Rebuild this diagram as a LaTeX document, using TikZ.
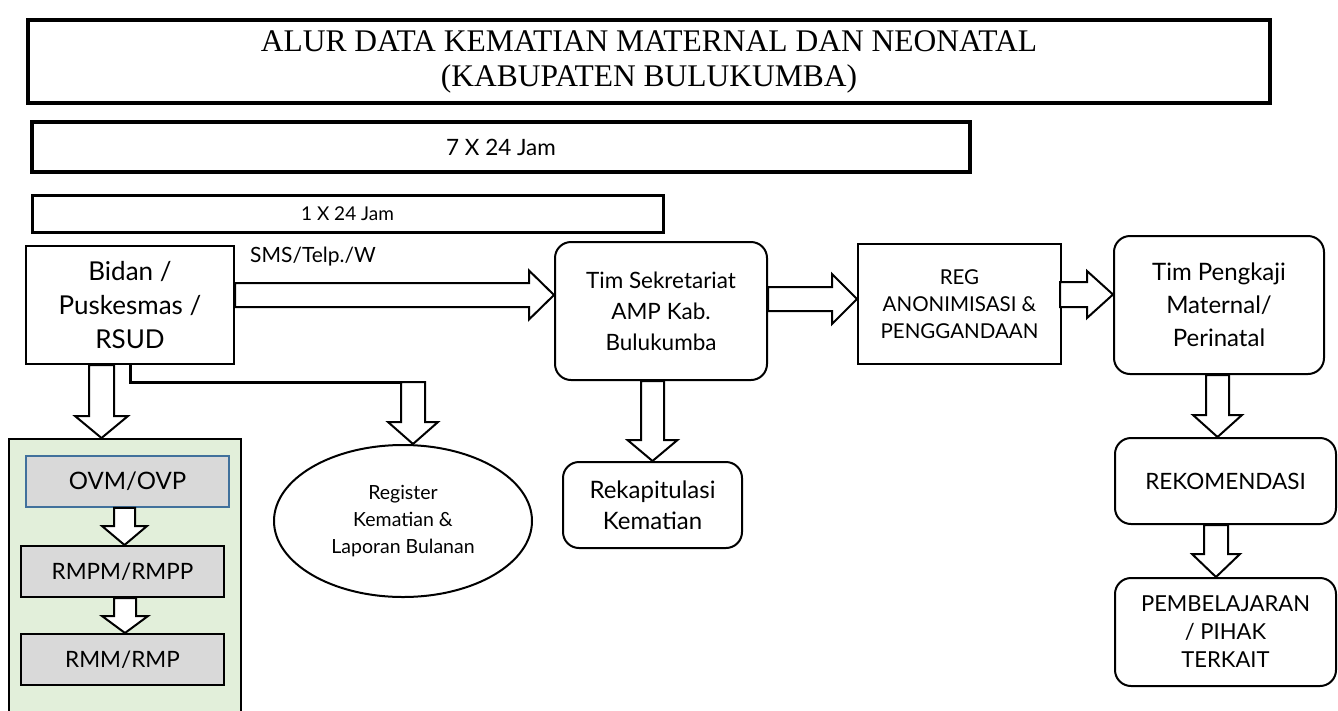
\documentclass[tikz,border=0pt]{standalone}
\usepackage{fontspec}
\setmainfont{Liberation Serif}
\newfontfamily\gs{Lato}
\usetikzlibrary{calc,shapes.geometric}
\definecolor{pgreen}{HTML}{E2EFDA}
\definecolor{pgray}{HTML}{D9D9D9}
\definecolor{pblue}{HTML}{41719C}
\newcommand\fs[2]{\fontsize{#1}{#2}\selectfont}
\tikzset{
  box/.style={draw, line width=2pt, align=center, font=\gs, inner sep=0pt},
  rbox/.style={box, rounded corners=16pt},
  blk/.style={draw, line width=2pt, fill=white, line join=miter},
}
% horizontal block arrow: start coord, end node, half shaft, half head, head length
\newcommand\harr[5]{%
  \draw[blk] let \p1=(#1), \p2=(#2 |- #1) in
   (\x1,\y1+#3) -- (\x2-#5,\y1+#3) -- (\x2-#5,\y1+#4) -- (\x2,\y1) --
   (\x2-#5,\y1-#4) -- (\x2-#5,\y1-#3) -- (\x1,\y1-#3) -- cycle;}
% downward block arrow
\newcommand\varr[5]{%
  \draw[blk] let \p1=(#1), \p2=(#1 |- #2) in
   (\x1-#3,\y1) -- (\x1-#3,\y2+#5) -- (\x1-#4,\y2+#5) -- (\x1,\y2) --
   (\x1+#4,\y2+#5) -- (\x1+#3,\y2+#5) -- (\x1+#3,\y1) -- cycle;}
\begin{document}
\begin{tikzpicture}[x=1pt,y=-1pt]
\useasboundingbox (0,0) rectangle (1338,710);
% headers
\node[draw, line width=4pt, minimum width=1242pt, minimum height=83pt, align=center,
  font=\fs{31.5}{35}] (title) at (649,61.5)
  {ALUR DATA KEMATIAN MATERNAL DAN NEONATAL\\(KABUPATEN BULUKUMBA)};
\node[draw, line width=3.5pt, minimum width=938pt, minimum height=50pt,
  font=\gs\fs{22.5}{26}] (d7) at (501,147) {7 X 24 Jam};
\node[draw, line width=3pt, minimum width=631pt, minimum height=37pt,
  font=\gs\fs{19}{22}] (d1) at (347.5,214) {1 X 24 Jam};
% main nodes
\node[box, minimum width=208pt, minimum height=118pt, font=\gs\fs{26}{34}] (bidan) at (130,305)
  {Bidan /\\Puskesmas /\\RSUD};
\node[rbox, minimum width=212pt, minimum height=138pt, font=\gs\fs{22.5}{31}] (sek) at (661,311)
  {Tim Sekretariat\\AMP Kab.\\Bulukumba};
\node[box, minimum width=203pt, minimum height=120pt, font=\gs\fs{20.5}{27}] (reg) at (959.5,304)
  {REG\\ANONIMISASI \&\\PENGGANDAAN};
\node[rbox, minimum width=210pt, minimum height=138pt, font=\gs\fs{24}{33}] (peng) at (1219,305)
  {Tim Pengkaji\\Maternal/\\Perinatal};
\node[rbox, minimum width=221pt, minimum height=86pt, font=\gs\fs{22.5}{26}] (rekom) at (1225.5,481)
  {REKOMENDASI};
\node[rbox, minimum width=221pt, minimum height=108pt, font=\gs\fs{22}{28}] (pemb) at (1225.5,632)
  {PEMBELAJARAN\\/ PIHAK\\TERKAIT};
\node[rbox, minimum width=179pt, minimum height=86pt, font=\gs\fs{24}{31}] (rekap) at (652.5,505)
  {Rekapitulasi\\Kematian};
\node[draw, line width=2pt, ellipse, minimum width=258pt, minimum height=152pt, inner sep=0pt,
  align=center, font=\gs\fs{19.5}{27}] (regis) at (403,521)
  {Register\\Kematian \&\\Laporan Bulanan};
% green panel
\node[draw, line width=1.5pt, fill=pgreen, anchor=north west, minimum width=232pt,
  minimum height=300pt, inner sep=0pt] (green) at (8,438) {};
\node[draw=pblue, line width=1.5pt, fill=pgray, minimum width=203pt, minimum height=51pt,
  font=\gs\fs{24}{30}, inner sep=0pt] (ovm) at (127.5,481.5) {OVM/OVP};
\node[box, fill=pgray, minimum width=203pt, minimum height=51pt, font=\gs\fs{22.5}{30}] (rmpm) at (122.5,571.5)
  {RMPM/RMPP};
\node[box, fill=pgray, minimum width=203pt, minimum height=51pt, font=\gs\fs{22.5}{30}] (rmm) at (122.5,659.5)
  {RMM/RMP};
% label
\node[anchor=west, inner sep=0pt, font=\gs\fs{21}{24}] (sms) at (250,257) {SMS/Telp./W};
% connectors
\coordinate (s1) at ($(bidan.east)+(0,-10)$);
\harr{s1}{sek.west}{12pt}{24.5pt}{25pt}
\coordinate (s2) at ($(sek.east)+(0,-12)$);
\harr{s2}{reg.west}{12pt}{25pt}{25pt}
\coordinate (s3) at ($(reg.east)+(-2,-9.5)$);
\harr{s3}{peng.west}{12.5pt}{23.5pt}{26pt}
\coordinate (s4) at ($(bidan.south)+(-28.5,0)$);
\varr{s4}{green.north}{12.5pt}{26.5pt}{22pt}
\coordinate (elbR) at (425,382);
\coordinate (elb) at (413,382);
\draw[line width=3pt] (bidan.south) |- (elbR);
\varr{elb}{regis.north}{12pt}{25pt}{22pt}
\coordinate (s5) at (sek.south -| rekap.north);
\varr{s5}{rekap.north}{11.5pt}{25pt}{21pt}
\coordinate (s6) at ($(peng.south)+(-1.5,0)$);
\varr{s6}{rekom.north}{11.5pt}{24.5pt}{22pt}
\coordinate (s7) at ($(rekom.south)+(-9.5,0)$);
\varr{s7}{pemb.north}{12pt}{24pt}{23pt}
\coordinate (s8) at ($(ovm.south)+(-3,0)$);
\varr{s8}{rmpm.north}{10.5pt}{22.5pt}{19pt}
\coordinate (s9) at ($(rmpm.south)+(2.5,0)$);
\varr{s9}{rmm.north}{11pt}{23pt}{17pt}
\end{tikzpicture}
\end{document}
